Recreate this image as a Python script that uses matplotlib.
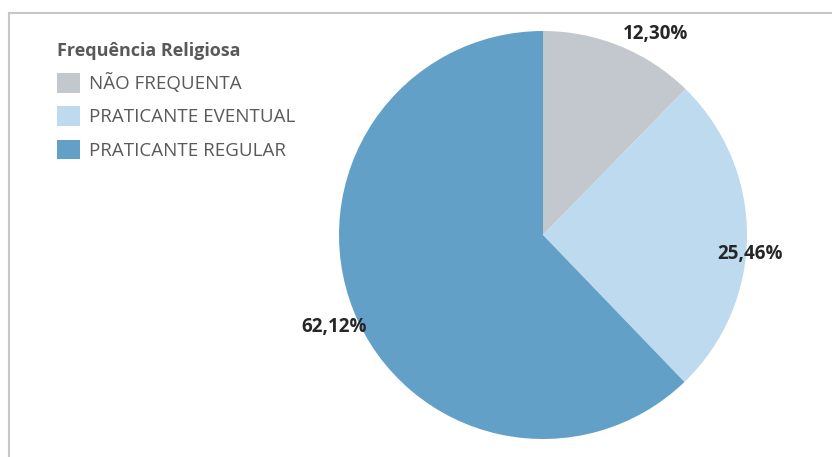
import numpy as np
import matplotlib
matplotlib.use("Agg")
import matplotlib.pyplot as plt
from matplotlib.lines import Line2D

plt.rcParams['font.family'] = ['Open Sans', 'DejaVu Sans']

categories = ["NÃO FREQUENTA", "PRATICANTE EVENTUAL", "PRATICANTE REGULAR"]
values = [12.30, 25.46, 62.12]
labels = ["12,30%", "25,46%", "62,12%"]
colors = ["#c3c7ce", "#bddaee", "#63a0c8"]

# label placement: (angle shift from slice middle in degrees, distance in radii)
label_pos = [(-7.0, 1.13), (-5.0, 1.02), (1.8, 1.12)]

fig = plt.figure(figsize=(8.32, 4.57), dpi=100)
W, H = 832, 457
cx, cy, r = 543, 235, 204
ax = fig.add_axes([(cx - r) / W, (H - cy - r) / H, 2 * r / W, 2 * r / H])

wedges, _ = ax.pie(values, colors=colors, startangle=90, counterclock=False,
                   radius=1, wedgeprops=dict(linewidth=0))
ax.set_xlim(-1, 1)
ax.set_ylim(-1, 1)
ax.set_aspect("equal")
ax.axis("off")

# data labels
for w, lab, (shift, d) in zip(wedges, labels, label_pos):
    ang = np.deg2rad((w.theta1 + w.theta2) / 2 + shift)
    ax.text(d * np.cos(ang), d * np.sin(ang), lab, ha="center", va="center",
            fontsize=13.5, fontweight="bold", color="#262626")

leg = fig.legend(wedges, categories, title="Frequência Religiosa",
                 loc="upper left", bbox_to_anchor=(57 / W, 1 - 42 / H),
                 frameon=False, fontsize=13.5, handlelength=1.23, handleheight=1.23,
                 handletextpad=0.48, labelspacing=0.70, borderpad=0,
                 borderaxespad=0)
leg.get_title().set_fontweight("bold")
leg.get_title().set_color("#595959")
leg.get_title().set_fontsize(13)
leg._legend_box.align = "left"
for t in leg.get_texts():
    t.set_color("#595959")

# chart frame (top and left edges visible)
fig.add_artist(Line2D([8.5 / W, 8.5 / W], [0, 1 - 13 / H], color="#c8c8c8", lw=1.5))
fig.add_artist(Line2D([8.5 / W, 1], [1 - 13 / H, 1 - 13 / H], color="#c8c8c8", lw=1.5))

fig.savefig("out.png", dpi=100)
